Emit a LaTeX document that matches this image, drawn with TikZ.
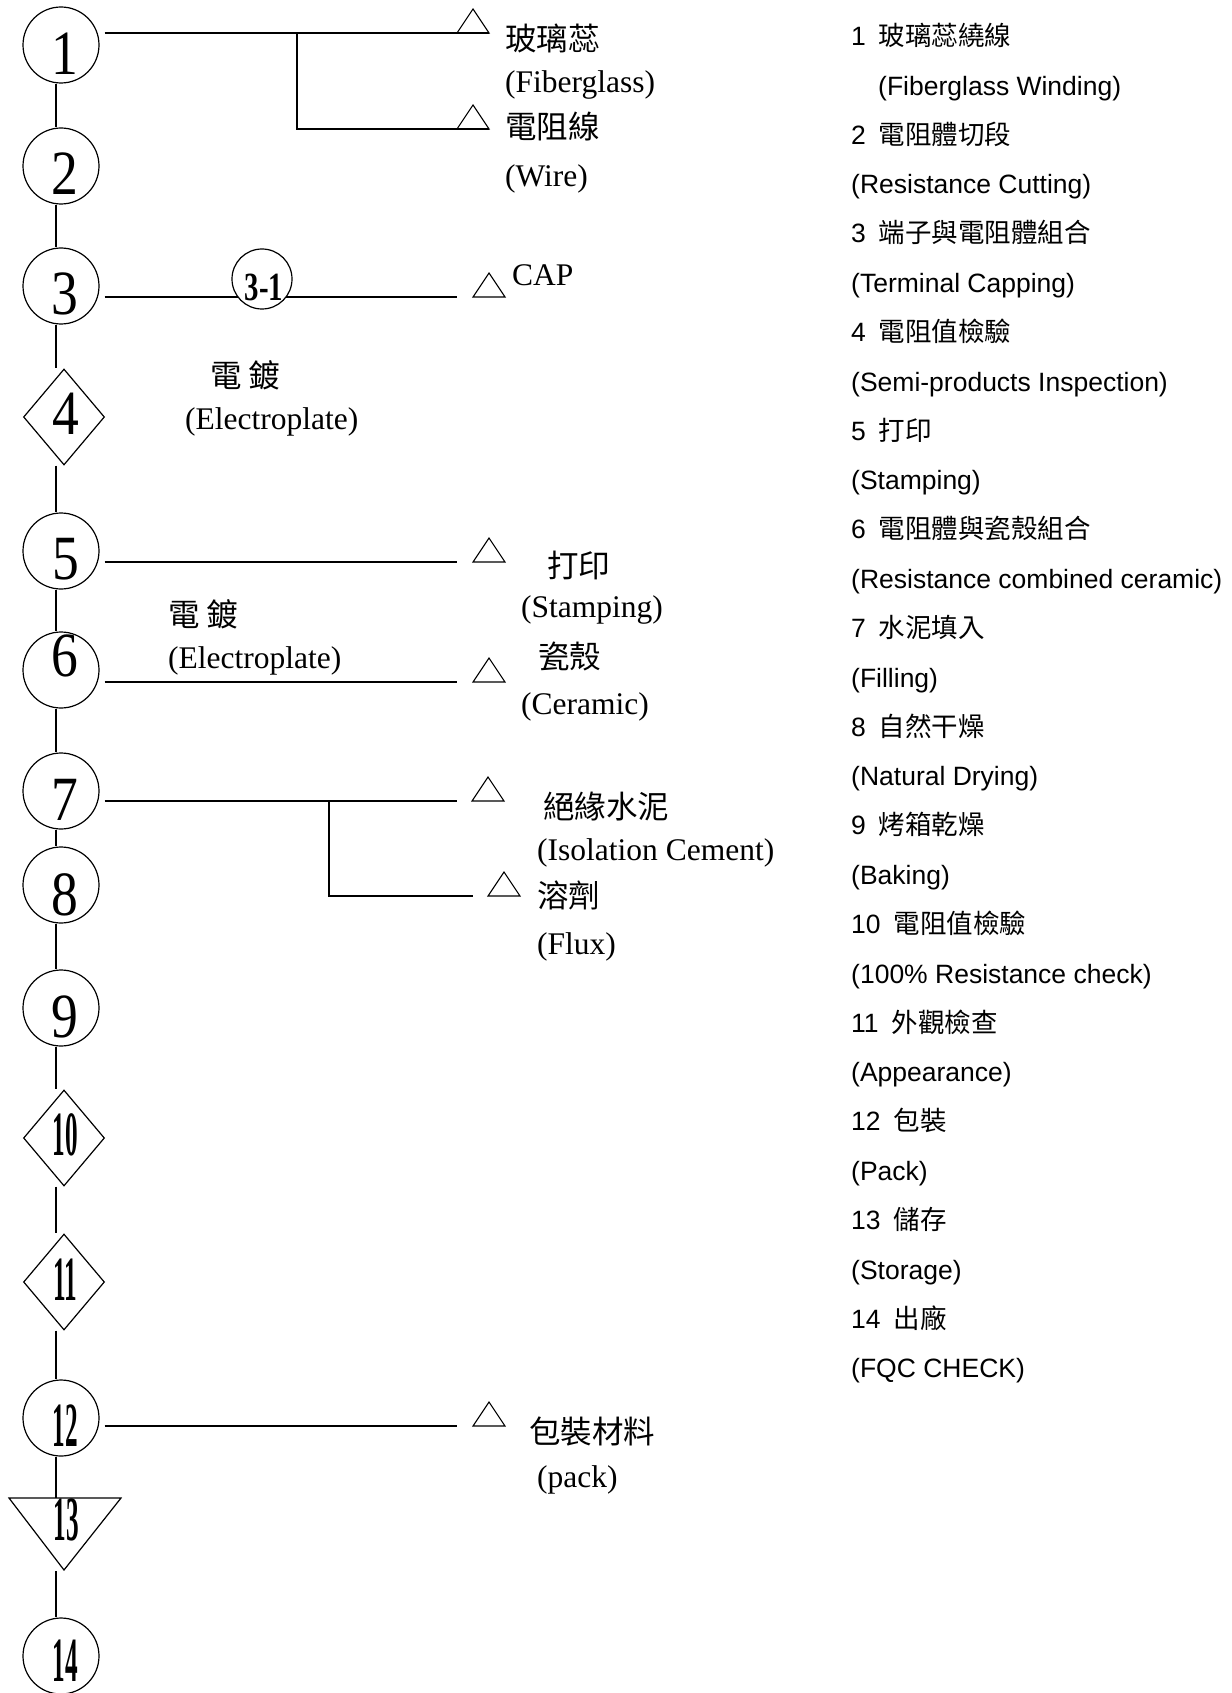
\documentclass[tikz,border=0pt]{standalone}
\usepackage{fontspec}
\setmainfont{Liberation Serif}
\newfontfamily\cjk{Noto Sans CJK TC}
\newfontfamily\arialf{Liberation Sans}
\usetikzlibrary{shapes.geometric}
\newcommand{\LF}{\fontsize{31.5}{36}\selectfont}
\newcommand{\RF}{\fontsize{26.5}{30}\selectfont\arialf}
\newcommand{\DF}{\fontsize{63}{63}\selectfont}
\newcommand{\one}[1]{\scalebox{0.85}[1]{#1}}
\newcommand{\two}[1]{\scalebox{0.40}[1]{\bfseries #1}}
\begin{document}
\begin{tikzpicture}[x=1pt,y=-1pt,
  ln/.style={line width=1.2pt},
  proc/.style={circle, draw, line width=1.2pt, minimum size=76pt, inner sep=0pt, fill=white},
  insp/.style={diamond, draw, line width=1.2pt, minimum width=81pt, minimum height=96pt, inner sep=0pt, fill=white},
  subproc/.style={circle, draw, line width=1.2pt, minimum size=60pt, inner sep=0pt, fill=white},
  dig/.style={inner sep=0pt, font=\DF},
  lt/.style={anchor=west, inner sep=0pt, font=\LF},
  rt/.style={anchor=west, inner sep=0pt, font=\RF},
  mat/.pic={\draw[line width=1.1pt, line join=miter] (-16,0) -- (16,0) -- (0,-24) -- cycle;}
]
\useasboundingbox (0,0) rectangle (1231,1693);
\coordinate (ml) at (56,0);

% process shapes
\node[proc] (c1) at (61,45) {};
\node[proc] (c2) at (61,166) {};
\node[proc] (c3) at (61,286) {};
\node[insp] (d4) at (64,417) {};
\node[proc] (c5) at (61,551) {};
\node[proc] (c6) at (61,670) {};
\node[proc] (c7) at (61,791) {};
\node[proc] (c8) at (61,885) {};
\node[proc] (c9) at (61,1008) {};
\node[insp] (d10) at (64,1138) {};
\node[insp] (d11) at (64,1282) {};
\node[proc] (c12) at (61,1418) {};
\coordinate (t13n) at (56,1498);
\coordinate (t13s) at (56,1571);
\draw[ln, line join=miter] (9,1498) -- (121,1498) -- (64,1570) -- cycle;
\node[proc] (c14) at (61,1656) {};

% main flow line
\draw[ln] (c1.south -| ml) -- (c2.north -| ml);
\draw[ln] (c2.south -| ml) -- (c3.north -| ml);
\draw[ln] (c3.south -| ml) -- (d4.north -| ml);
\draw[ln] (d4.south -| ml) -- (c5.north -| ml);
\draw[ln] (c5.south -| ml) -- (c6.north -| ml);
\draw[ln] (c6.south -| ml) -- (c7.north -| ml);
\draw[ln] (c7.south -| ml) -- (c8.north -| ml);
\draw[ln] (c8.south -| ml) -- (c9.north -| ml);
\draw[ln] (c9.south -| ml) -- (d10.north -| ml);
\draw[ln] (d10.south -| ml) -- (d11.north -| ml);
\draw[ln] (d11.south -| ml) -- (c12.north -| ml);
\draw[ln] (c12.south -| ml) -- (t13n);
\draw[ln] (t13s) -- (c14.north -| ml);

% digits
\node[dig] (n1) at (65,53.5) {\one{1}};
\node[dig] (n2) at (65,174) {\one{2}};
\node[dig] (n3) at (65,294) {\one{3}};
\node[dig] (n4) at (66,414) {\one{4}};
\node[dig] (n5) at (66,559) {\one{5}};
\node[dig] (n6) at (65,656) {\one{6}};
\node[dig] (n7) at (65,800) {\one{7}};
\node[dig] (n8) at (65,895) {\one{8}};
\node[dig] (n9) at (65,1017) {\one{9}};
\node[dig] (n10) at (65,1134.5) {\two{10}};
\node[dig] (n11) at (65,1279.5) {\two{11}};
\node[dig] (n12) at (65,1426) {\two{12}};
\node[dig] (n13) at (66,1520) {\two{13}};
\node[dig] (n14) at (65,1661) {\two{14}};

% material markers
\coordinate (m1) at (473,33);
\coordinate (m2) at (473,129);
\coordinate (m3) at (489,297);
\coordinate (m5) at (489,562);
\coordinate (m6) at (489,682);
\coordinate (m7) at (488,801);
\coordinate (m7b) at (504,896);
\coordinate (m12) at (489,1426);
\foreach \m in {m1,m2,m3,m5,m6,m7,m7b,m12} \pic at (\m) {mat};

% branch connectors
\coordinate (j1) at (297,33);
\coordinate (j7) at (329,801);
\draw[ln] ([shift={(5pt,12pt)}]c1.east) -- ([xshift=16pt]m1);
\draw[ln] (j1) |- ([xshift=16pt]m2);
\draw[ln] ([shift={(5pt,-11pt)}]c3.east) -- (457,297);
\draw[ln] ([shift={(5pt,-11pt)}]c5.east) -- (457,562);
\draw[ln] ([shift={(5pt,-12pt)}]c6.east) -- (457,682);
\draw[ln] ([shift={(5pt,-10pt)}]c7.east) -- (457,801);
\draw[ln] (j7) |- (473,896);
\draw[ln] ([shift={(5pt,-8pt)}]c12.east) -- (457,1426);

% sub process 3-1
\node[subproc] (c31) at (262,279) {};
\node[inner sep=0pt, font=\fontsize{40}{40}\selectfont\bfseries] (n31) at (264,287) {\scalebox{0.72}[1]{3-1}};

% left labels
\node[lt] (l1) at (505,38) {\cjk 玻璃蕊};
\node[lt] (l2) at (505,85) {(Fiberglass)};
\node[lt] (l3) at (505,127) {\cjk 電阻線};
\node[lt] (l4) at (505,179) {(Wire)};
\node[lt] (l5) at (512,275) {CAP};
\node[lt] (l6) at (210,375) {\cjk 電 鍍};
\node[lt] (l7) at (185,422) {(Electroplate)};
\node[lt] (l8) at (547,565) {\cjk 打印};
\node[lt] (l9) at (521,610) {(Stamping)};
\node[lt] (l10) at (538,656) {\cjk 瓷殼};
\node[lt] (l11) at (521,707) {(Ceramic)};
\node[lt] (l12) at (168,614) {\cjk 電 鍍};
\node[lt] (l13) at (168,661) {(Electroplate)};
\node[lt] (l14) at (543,806) {\cjk 絕緣水泥};
\node[lt] (l15) at (537,853) {(Isolation Cement)};
\node[lt] (l16) at (537,895) {\cjk 溶劑};
\node[lt] (l17) at (537,947) {(Flux)};
\node[lt] (l18) at (529,1432) {\cjk 包裝材料};
\node[lt] (l19) at (537,1480) {(pack)};

% right legend
\node[rt] (r1) at (851,35.5) {1\hspace{13pt}{\cjk 玻璃蕊繞線}};
\node[rt] (r2) at (878,88.3) {(Fiberglass Winding)};
\node[rt] (r3) at (851,134.2) {2\hspace{13pt}{\cjk 電阻體切段}};
\node[rt] (r4) at (851,187) {(Resistance Cutting)};
\node[rt] (r5) at (851,232.8) {3\hspace{13pt}{\cjk 端子與電阻體組合}};
\node[rt] (r6) at (851,285.7) {(Terminal Capping)};
\node[rt] (r7) at (851,331.5) {4\hspace{13pt}{\cjk 電阻值檢驗}};
\node[rt] (r8) at (851,384.3) {(Semi-products Inspection)};
\node[rt] (r9) at (851,430.1) {5\hspace{13pt}{\cjk 打印}};
\node[rt] (r10) at (851,483) {(Stamping)};
\node[rt] (r11) at (851,528.8) {6\hspace{13pt}{\cjk 電阻體與瓷殼組合}};
\node[rt] (r12) at (851,581.6) {(Resistance combined ceramic)};
\node[rt] (r13) at (851,627.5) {7\hspace{13pt}{\cjk 水泥填入}};
\node[rt] (r14) at (851,680.3) {(Filling)};
\node[rt] (r15) at (851,726.1) {8\hspace{13pt}{\cjk 自然干燥}};
\node[rt] (r16) at (851,779) {(Natural Drying)};
\node[rt] (r17) at (851,824.8) {9\hspace{13pt}{\cjk 烤箱乾燥}};
\node[rt] (r18) at (851,877.6) {(Baking)};
\node[rt] (r19) at (851,923.4) {10\hspace{13pt}{\cjk 電阻值檢驗}};
\node[rt] (r20) at (851,976.3) {(100\% Resistance check)};
\node[rt] (r21) at (851,1022.1) {11\hspace{13pt}{\cjk 外觀檢查}};
\node[rt] (r22) at (851,1074.9) {(Appearance)};
\node[rt] (r23) at (851,1120.8) {12\hspace{13pt}{\cjk 包裝}};
\node[rt] (r24) at (851,1173.6) {(Pack)};
\node[rt] (r25) at (851,1219.4) {13\hspace{13pt}{\cjk 儲存}};
\node[rt] (r26) at (851,1272.3) {(Storage)};
\node[rt] (r27) at (851,1318.1) {14\hspace{13pt}{\cjk 出廠}};
\node[rt] (r28) at (851,1370.9) {(FQC CHECK)};
\end{tikzpicture}
\end{document}
